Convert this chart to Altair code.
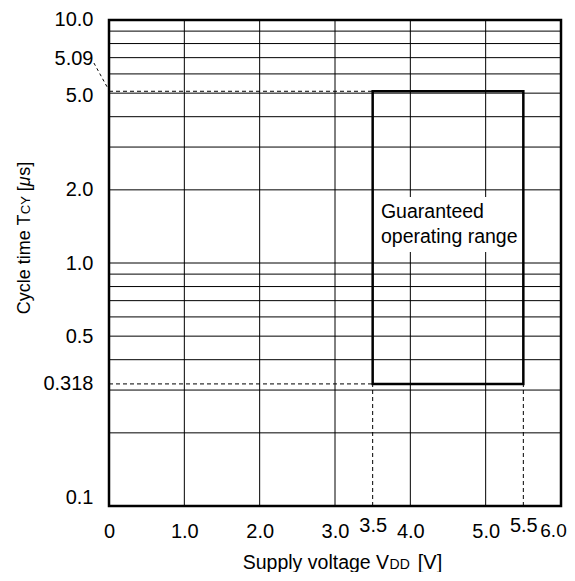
import altair as alt
import pandas as pd

# ---- data ----
x_ticks = [0, 1, 2, 3, 3.5, 4, 5, 5.5, 6]
x_tick_labels = ["0", "1.0", "2.0", "3.0", "3.5", "4.0", "5.0", "5.5", "6.0"]
y_ticks = [10, 5.09, 5, 2, 1, 0.5, 0.318, 0.1]
y_tick_labels = ["10.0", "5.09", "5.0", "2.0", "1.0", "0.5", "0.318", "0.1"]
x_grid = [1, 2, 3, 4, 5]
y_grid = [0.2, 0.3, 0.4, 0.5, 0.6, 0.7, 0.8, 0.9, 1, 2, 3, 4, 5, 6, 7, 8, 9]
vdd_min, vdd_max = 3.5, 5.5
tcy_min, tcy_max = 0.318, 5.09
range_label = "Guaranteed\noperating range"

# dashed reference segments
seg_x = [0, 0, vdd_min, vdd_max]
seg_x2 = [vdd_min, vdd_min, vdd_min, vdd_max]
seg_y = [tcy_max, tcy_min, 0.1, 0.1]
seg_y2 = [tcy_max, tcy_min, tcy_min, tcy_min]
# leader line from the "5.09" label to the axis
lead_x, lead_x2, lead_y, lead_y2 = -0.2, -0.01, 6.65, 5.2
# white box behind the range label and label anchor
box_x, box_x2, box_y, box_y2 = 3.55, 5.45, 1.11, 1.87
lab_x, lab_y = 3.61, 1.62

FONT = "Liberation Sans"
FS_TICK = 20
FS_TXT = 19.5
W, H = 452, 486

xs = alt.Scale(domain=[0, 6], nice=False, zero=False)
ys = alt.Scale(type="log", domain=[0.1, 10], nice=False)

def lbl_expr(vals, labs):
    e = "datum.label"
    for v, l in reversed(list(zip(vals, labs))):
        e = f"datum.value == {v} ? '{l}' : ({e})"
    return e

x_axis = alt.Axis(values=x_ticks, labelExpr=lbl_expr(x_ticks, x_tick_labels), title="",
                  domain=False, ticks=False, grid=False, labelFlush=False, labelOverlap=False,
                  labelFont=FONT, labelColor="black", labelBaseline="top",
                  labelFontSize={"condition": {"test": "datum.value == 6", "value": 19}, "value": FS_TICK},
                  labelOffset={"condition": {"test": "datum.value == 6", "value": -8}, "value": 0},
                  labelPadding={"condition": {"test": "datum.value == 3.5 || datum.value == 5.5", "value": 9}, "value": 15})
y_axis = alt.Axis(values=y_ticks, labelExpr=lbl_expr(y_ticks, y_tick_labels), title="",
                  domain=False, ticks=False, grid=False, labelFlush=False, labelOverlap=False,
                  labelFont=FONT, labelFontSize=FS_TICK, labelColor="black", labelPadding=16,
                  labelOffset={"condition": [
                      {"test": "datum.value == 5.09", "value": -33},
                      {"test": "datum.value == 10", "value": -1},
                      {"test": "datum.value == 0.1", "value": -9},
                      {"test": "datum.value == 5", "value": 2}], "value": 0})

X = lambda f: alt.X(f, scale=xs, axis=x_axis)
Y = lambda f: alt.Y(f, scale=ys, axis=y_axis)

vgrid = alt.Chart(pd.DataFrame({"x": x_grid})).mark_rule(color="black", strokeWidth=1).encode(
    x=X("x:Q"))
hgrid = alt.Chart(pd.DataFrame({"y": y_grid})).mark_rule(color="black", strokeWidth=1).encode(
    y=Y("y:Q"))

box = alt.Chart(pd.DataFrame({"x": [box_x], "x2": [box_x2], "y": [box_y], "y2": [box_y2]})).mark_rect(
    fill="white").encode(x=X("x:Q"), x2="x2:Q", y=Y("y:Q"), y2="y2:Q")

dashed = alt.Chart(pd.DataFrame({"x": seg_x, "x2": seg_x2, "y": seg_y, "y2": seg_y2})).mark_rule(
    color="black", strokeWidth=1, strokeDash=[4, 3]).encode(
    x=X("x:Q"), x2="x2:Q", y=Y("y:Q"), y2="y2:Q")

leader = alt.Chart(pd.DataFrame({"x": [lead_x], "x2": [lead_x2], "y": [lead_y], "y2": [lead_y2]})).mark_rule(
    color="black", strokeWidth=1, strokeDash=[3, 3]).encode(
    x=X("x:Q"), x2="x2:Q", y=Y("y:Q"), y2="y2:Q")

rng = alt.Chart(pd.DataFrame({"x": [vdd_min], "x2": [vdd_max], "y": [tcy_min], "y2": [tcy_max]})).mark_rect(
    fill="transparent", stroke="black", strokeWidth=2.5).encode(
    x=X("x:Q"), x2="x2:Q", y=Y("y:Q"), y2="y2:Q")

txt = alt.Chart(pd.DataFrame({"x": [lab_x], "y": [lab_y], "t": [range_label]})).mark_text(
    align="left", baseline="middle", lineBreak="\n", font=FONT, fontSize=FS_TXT, lineHeight=25,
    color="black").encode(x=X("x:Q"), y=Y("y:Q"), text="t:N")

# ---- axis titles built from pieces (subscripts, italic mu) ----
AW = {' ': 278, 'S': 667, 'u': 556, 'p': 556, 'l': 222, 'y': 500, 'v': 500, 'o': 556, 't': 278,
      'a': 556, 'g': 556, 'e': 556, 'V': 667, 'D': 722, '[': 278, ']': 278, 'C': 722, 'c': 500,
      'i': 222, 'm': 833, 'T': 611, 'Y': 667, 's': 500, 'μ': 576}

def tw(s, size):
    return sum(AW.get(ch, 556) for ch in s) * size / 1000.0

# (text, size, style, gap before)
x_title = [("Supply voltage V", 19.5, "normal", 0), ("DD", 14, "normal", 0.5), ("[V]", 20, "normal", 8)]
y_title = [("Cycle time T", 18, "normal", 0), ("CY", 13, "normal", 0), ("[", 18, "normal", tw(" ", 18)),
           ("μ", 18, "italic", 0), ("s]", 18, "normal", 0)]

layers = [vgrid, hgrid, box, dashed, leader, rng, txt]

xt_center, xt_base = 233.5, 549
tot = sum(tw(s, f) + g for s, f, _, g in x_title)
pos = xt_center - tot / 2
for s, f, st, g in x_title:
    pos += g
    layers.append(alt.Chart(pd.DataFrame({"t": [s]})).mark_text(
        align="left", baseline="alphabetic", font=FONT, fontSize=f, fontStyle=st, color="black").encode(
        x=alt.value(pos), y=alt.value(xt_base), text="t:N"))
    pos += tw(s, f)

yt_center, yt_base = 218, -79
tot = sum(tw(s, f) + g for s, f, _, g in y_title)
pos = yt_center + tot / 2
for s, f, st, g in y_title:
    pos -= g
    layers.append(alt.Chart(pd.DataFrame({"t": [s]})).mark_text(
        align="left", baseline="alphabetic", angle=270, font=FONT, fontSize=f, fontStyle=st,
        color="black").encode(x=alt.value(yt_base), y=alt.value(pos), text="t:N"))
    pos -= tw(s, f)

chart = alt.layer(*layers).properties(
    width=W, height=H,
    background="white",
    padding={"left": 101, "top": 12, "right": 6, "bottom": 66},
    autosize=alt.AutoSizeParams(type="none"),
).configure_view(stroke="black", strokeWidth=2.5)

chart.save("out.html", embed_options={"renderer": "svg", "actions": False})
